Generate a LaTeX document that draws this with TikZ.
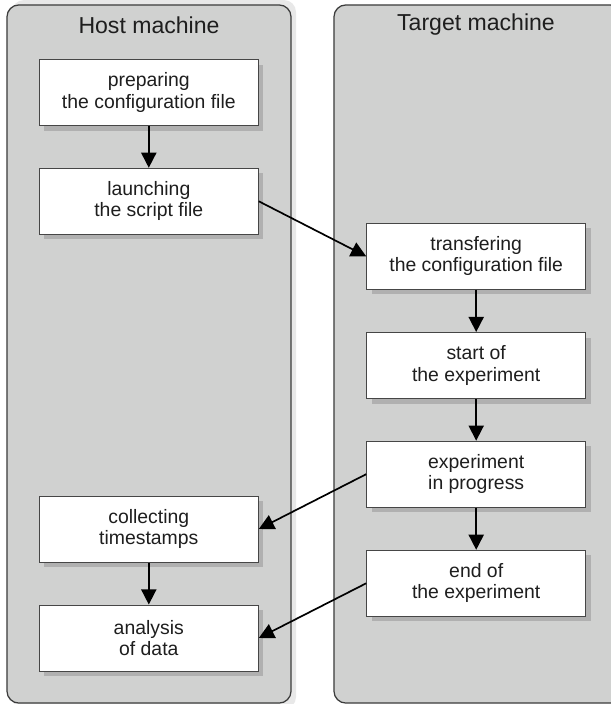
\documentclass[tikz,border=0pt]{standalone}
\usepackage{fontspec}
\setmainfont{Liberation Sans}
\usetikzlibrary{arrows.meta}
\definecolor{panelgray}{RGB}{208,209,208}
\definecolor{panelline}{RGB}{60,60,60}
\definecolor{boxline}{RGB}{70,70,70}
\definecolor{boxshadow}{RGB}{176,176,176}
\definecolor{panelshadow}{RGB}{232,232,232}
\definecolor{textgray}{RGB}{30,30,30}
\begin{document}
\begin{tikzpicture}[
        x=0.025cm, y=0.025cm,
        text=textgray,
        font=\fontsize{13.8}{15}\selectfont
    ]
    \tikzset{
        panel/.style = {draw=panelline, fill=panelgray, line width=0.9pt,
            rounded corners=0.3cm, inner sep=0pt, minimum height=17.45cm},
        paneltitle/.style = {font=\fontsize{16.4}{18}\selectfont},
        mybox/.style = {draw=boxline, fill=white, line width=0.7pt, align=center,
            minimum width=5.475cm, minimum height=1.65cm, inner sep=2pt},
        boxshade/.style = {fill=boxshadow},
        myarrow/.style = {-{Triangle[length=0.38cm, width=0.38cm]}, line width=1.2pt, black},
    }
    \path[use as bounding box, fill=white] (0,0) rectangle (611,-704);
    \clip (0,0) rectangle (611,-704);
    %
    \fill[panelshadow, rounded corners=0.3cm] (12,0) rectangle (296,-709);
    \node[panel, minimum width=7.1cm] at (149,-354) (host) {};
    \node[panel, minimum width=7.2cm] at (478,-354) (target) {};
    \node[paneltitle] at (149,-25) (hosttitle) {Host machine};
    \node[paneltitle] at (476,-25) (targettitle) {Target machine};
    %
    \foreach \x/\y in {148.8/92.5, 148.8/201.3, 148.8/529, 148.8/638,
                       476.2/256.3, 476.2/365.5, 476.2/474.2, 476.2/583.3}
        \fill[boxshade] (\x-104.5,-\y-38) rectangle (\x+114.5,-\y+28);
    %
    \node[mybox] at (148.8,-92.5) (prep) {preparing\\the configuration file};
    \node[mybox] at (148.8,-201.3) (launch) {launching\\the script file};
    \node[mybox] at (148.8,-529) (collect) {collecting\\timestamps};
    \node[mybox] at (148.8,-638) (analysis) {analysis\\of data};
    %
    \node[mybox] at (476.2,-256.3) (transfer) {transfering\\the configuration file};
    \node[mybox] at (476.2,-365.5) (start) {start of\\the experiment};
    \node[mybox] at (476.2,-474.2) (progress) {experiment\\in progress};
    \node[mybox] at (476.2,-583.3) (finish) {end of\\the experiment};
    %
    \draw[myarrow] (prep) -- (launch);
    \draw[myarrow] (launch.east) -- (transfer.west);
    \draw[myarrow] (transfer) -- (start);
    \draw[myarrow] (start) -- (progress);
    \draw[myarrow] (progress) -- (finish);
    \draw[myarrow] (progress.west) -- (collect.east);
    \draw[myarrow] (finish.west) -- (analysis.east);
    \draw[myarrow] (collect) -- (analysis);
\end{tikzpicture}
\end{document}
